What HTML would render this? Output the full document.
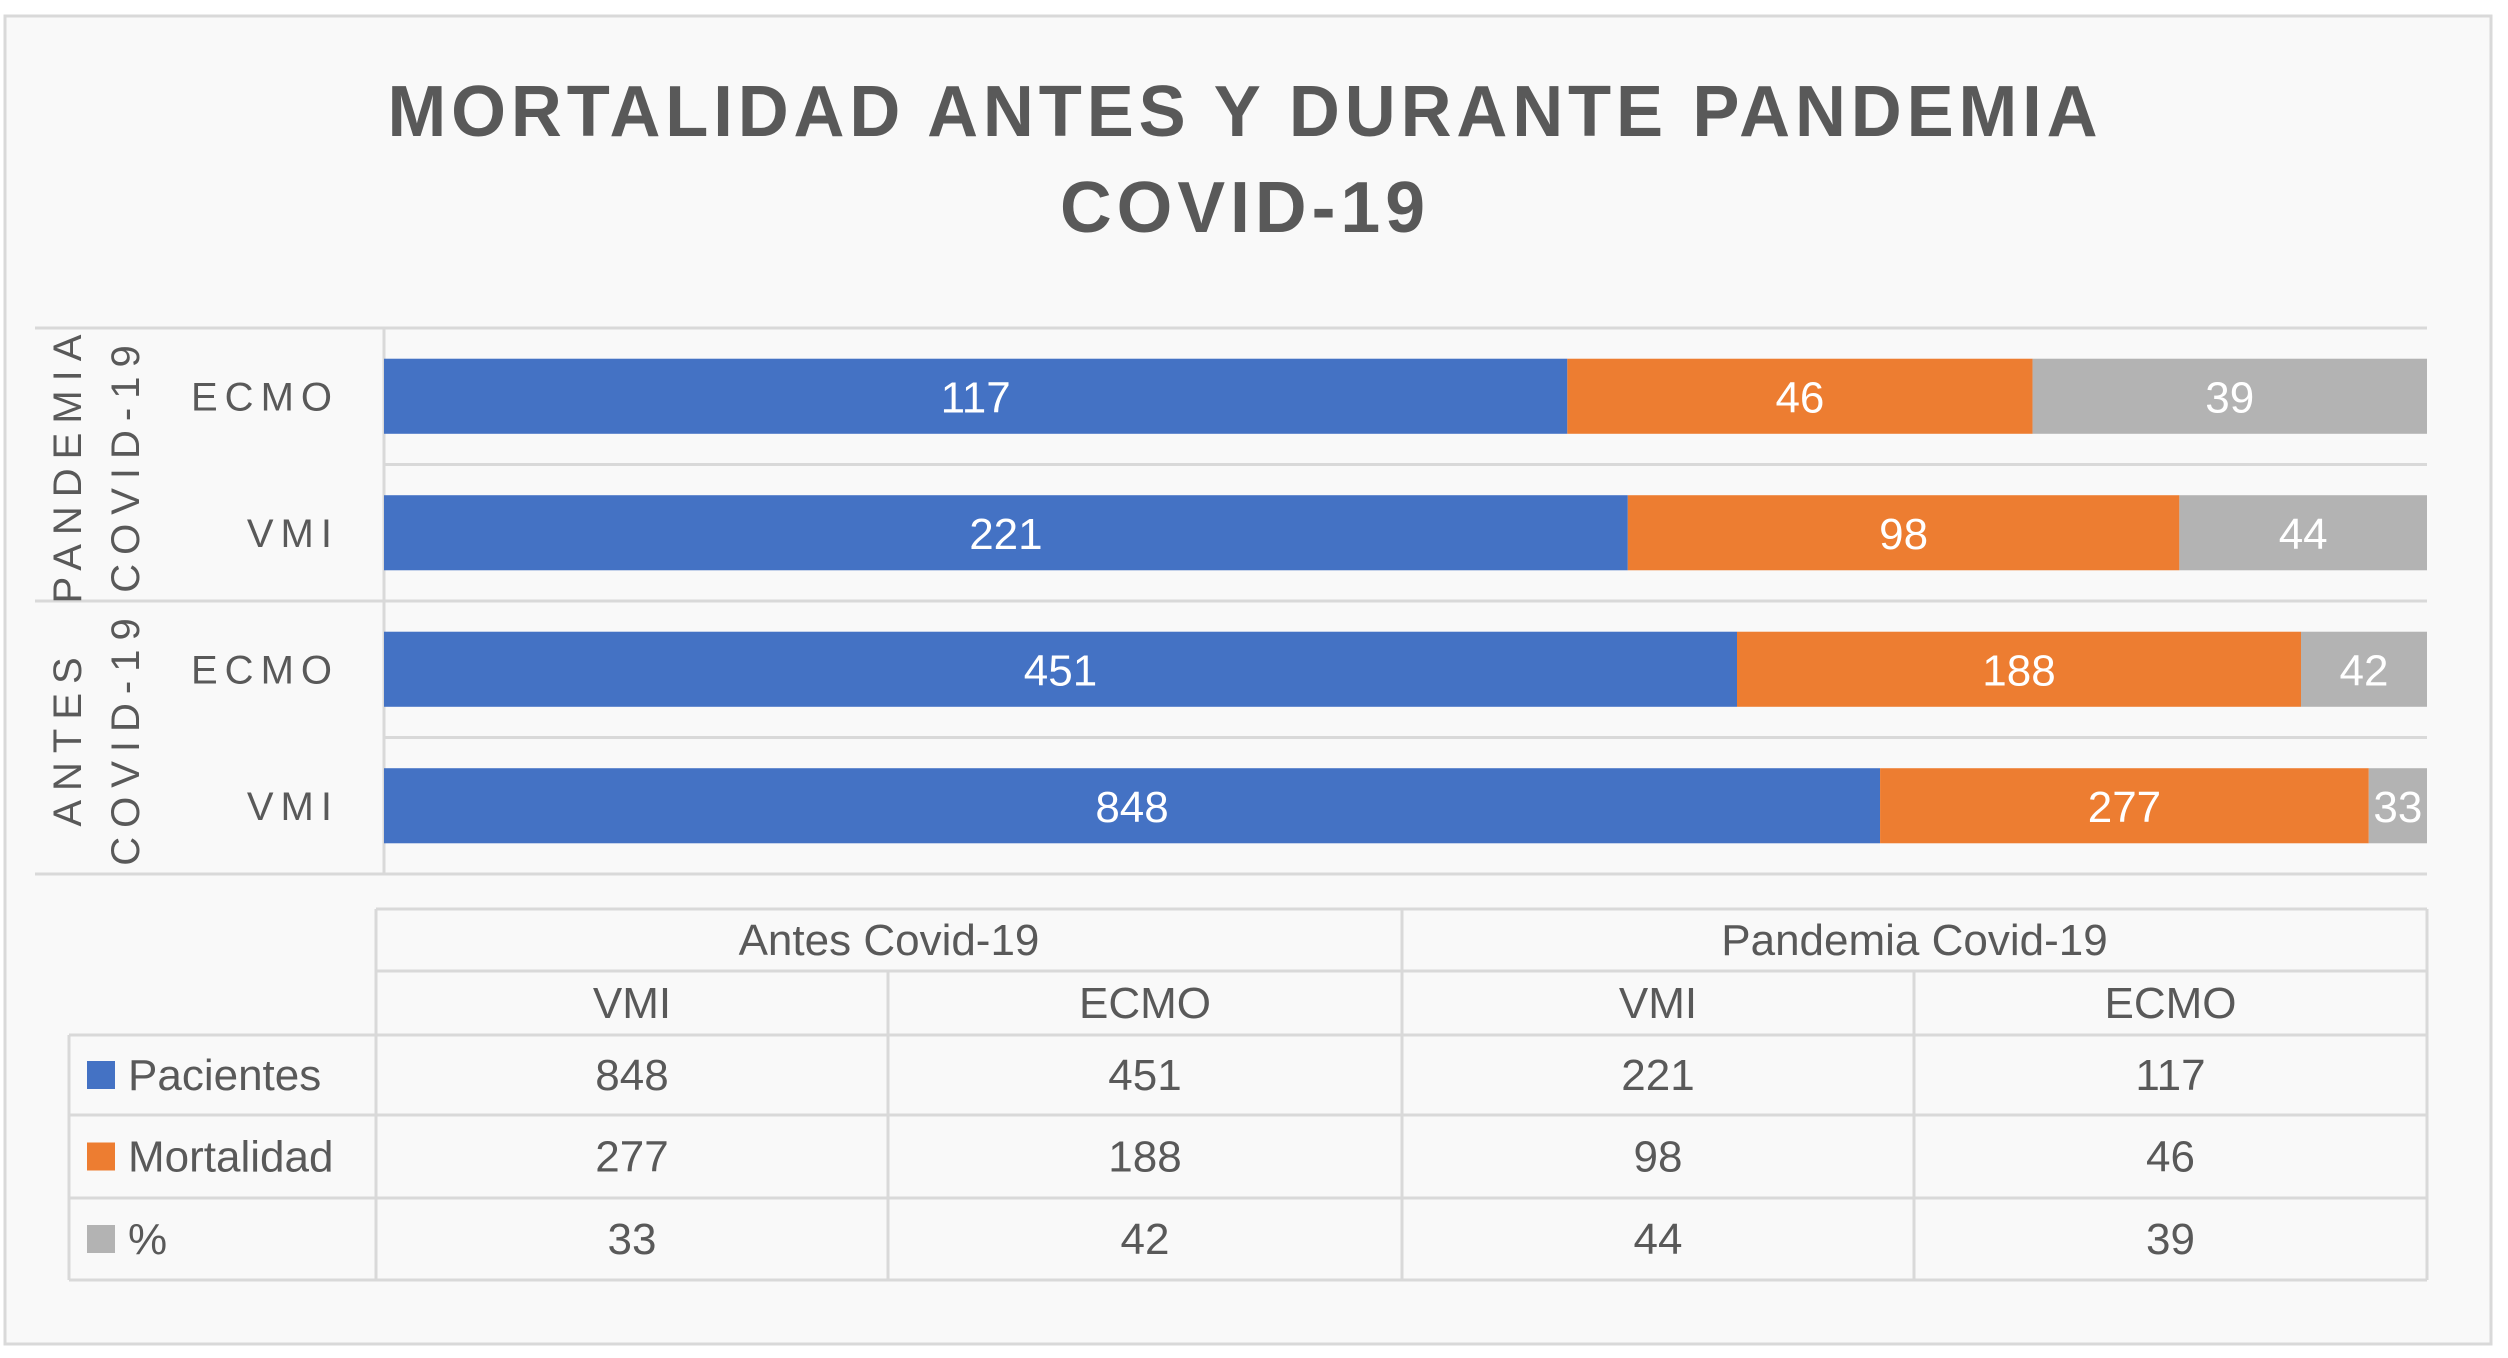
<!DOCTYPE html>
<html><head><meta charset="utf-8"><style>
html,body{margin:0;padding:0;background:#fff;}
body{width:2508px;height:1358px;overflow:hidden;font-family:"Liberation Sans",sans-serif;}
</style></head><body>
<svg id="chart" width="2508" height="1358" xmlns="http://www.w3.org/2000/svg" style="display:block">
<rect x="5" y="16" width="2486" height="1328" fill="#f9f9f9" stroke="#d9d9d9" stroke-width="3"/>
<text x="1245" y="136" text-anchor="middle" font-size="72" font-weight="bold" fill="#595959" letter-spacing="5" textLength="1715" lengthAdjust="spacingAndGlyphs">MORTALIDAD ANTES Y DURANTE PANDEMIA</text>
<text x="1245" y="232" text-anchor="middle" font-size="72" font-weight="bold" fill="#595959" letter-spacing="5" textLength="370" lengthAdjust="spacingAndGlyphs">COVID-19</text>
<g id="plot"></g>
<g id="table"></g>
</svg>
<script>
const categories = ["VMI","ECMO","VMI","ECMO"];
const groups = ["ANTES|COVID-19","PANDEMIA|COVID-19"];
const pacientes = [848,451,221,117];
const mortalidad = [277,188,98,46];
const porcentaje = [33,42,44,39];
const seriesNames = ["Pacientes","Mortalidad","%"];
const colors = ["#4472c4","#ed7d31","#b3b3b3"];
const tableCols = [["Antes Covid-19",0,1],["Pandemia Covid-19",2,3]];

const NS="http://www.w3.org/2000/svg";
function mk(tag,attrs,parent,text){const e=document.createElementNS(NS,tag);for(const k in attrs)e.setAttribute(k,attrs[k]);if(text!==undefined)e.textContent=text;parent.appendChild(e);return e;}
const plot=document.getElementById('plot');
const X0=384,X1=2427,Ytop=328,Ybot=874;
const n=categories.length, band=(Ybot-Ytop)/n, barH=band*0.55;
function xScale(frac){return X0+(X1-X0)*frac;}
function yBand(i){return Ybot-(i+1)*band;}
for(let i=0;i<=n;i++){
  const y=Ytop+i*band;
  const x0=(i%2===0)?35:384;
  const l=mk('line',{x1:x0,x2:X1,y1:y,y2:y,stroke:'#d9d9d9','stroke-width':3},plot);
  
  
}
const ax=mk('line',{x1:X0,x2:X0,y1:Ytop,y2:Ybot,stroke:'#d9d9d9','stroke-width':3},plot);


const series=[pacientes,mortalidad,porcentaje];
for(let i=0;i<n;i++){
  const tot=pacientes[i]+mortalidad[i]+porcentaje[i];
  let cum=0;
  const yb=yBand(i)+(band-barH)/2;
  for(let s=0;s<3;s++){
    const v=series[s][i];
    const xa=xScale(cum/tot), xb=xScale((cum+v)/tot);
    const r=mk('rect',{x:xa,y:yb,width:xb-xa,height:barH,fill:colors[s]},plot);
    
    
    const t=mk('text',{x:(xa+xb)/2,y:yb+barH/2+16,'text-anchor':'middle','font-size':44,fill:'#fff'},plot,String(v));
    
    
    cum+=v;
  }
  const c=mk('text',{x:339,y:yBand(i)+band/2+14,'text-anchor':'end','font-size':40,fill:'#595959','letter-spacing':7},plot,categories[i]);
  
  
}
for(let g=0;g<groups.length;g++){
  const cy=Ybot-(g*2+1)*band;
  const parts=groups[g].split('|');
  parts.forEach((p,k)=>{
    const x=67+k*58+14;
    const t=mk('text',{x:x,y:cy,'text-anchor':'middle','font-size':40,fill:'#595959','letter-spacing':9,transform:`rotate(-90 ${x} ${cy})`},plot,p);
    
    
  });
}
const tb=document.getElementById('table');
const cx=[69,376,888,1402,1914,2427], ry=[909,971,1035,1115,1198,1280];
const lc='#d9d9d9';
function L(x1,y1,x2,y2){const l=mk('line',{x1,y1,x2,y2,stroke:lc,'stroke-width':3},tb);}
L(376,909,2427,909);L(376,971,2427,971);
for(let r=2;r<6;r++)L(69,ry[r],2427,ry[r]);
L(69,1035,69,1280);L(376,909,376,1280);L(1402,909,1402,1280);L(2427,909,2427,1280);
L(888,971,888,1280);L(1914,971,1914,1280);
function T(x,y,s,name){const t=mk('text',{x,y,'text-anchor':'middle','font-size':44,fill:'#595959'},tb,s);return t;}
tableCols.forEach((c,j)=>{
  T((cx[1+2*j]+cx[3+2*j])/2,955,c[0],'table-group-header');
  [c[1],c[2]].forEach((idx,k)=>{
    const col=1+2*j+k;
    T((cx[col]+cx[col+1])/2,1018,categories[idx],'table-category-header');
    for(let s=0;s<3;s++) T((cx[col]+cx[col+1])/2,(ry[2+s]+ry[3+s])/2+15,String(series[s][idx]),'table-value');
  });
});
for(let s=0;s<3;s++){
  const yc=(ry[2+s]+ry[3+s])/2;
  const k=mk('rect',{x:87,y:yc-14,width:28,height:28,fill:colors[s]},tb);
  
  
  const t=mk('text',{x:128,y:yc+15,'font-size':44,fill:'#595959'},tb,seriesNames[s]);
  
  
}
</script>
</body></html>
